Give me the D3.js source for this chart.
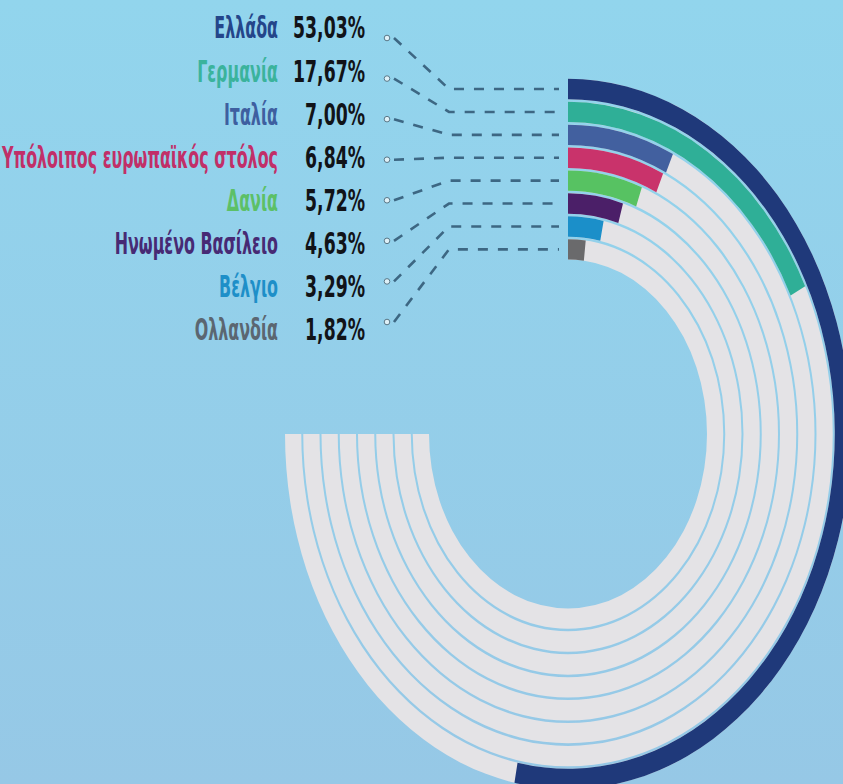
<!DOCTYPE html>
<html><head><meta charset="utf-8">
<script src="https://cdn.jsdelivr.net/npm/d3@7"></script>
<style>html,body{margin:0;padding:0;overflow:hidden;background:#93d0eb}</style>
</head><body>
<svg id="chart" width="843" height="784"></svg>
<script>
// ---- data ----
const countries = ["Ελλάδα","Γερμανία","Ιταλία","Υπόλοιπος ευρωπαϊκός στόλος","Δανία","Ηνωμένο Βασίλειο","Βέλγιο","Ολλανδία"];
const shares = [53.03, 17.67, 7.00, 6.84, 5.72, 4.63, 3.29, 1.82];
const arcColors = ["#1f397a","#2faf97","#42609f","#c9336b","#57c262","#4b1f68","#1b8fc9","#6a6a6c"];
const labelColors = ["#24468a","#3bb39c","#3e5fa0","#c12f68","#5cc067","#472a74","#1e8fc8","#5b6671"];

// ---- layout ----
const W = 843, H = 784;
const cx = 568, cy = 434, ky = 1.255;
const rOuter = 283, rInner = 139;
const trackEnd = Math.PI * 1.5;
const fmt = d3.formatLocale({decimal: ",", thousands: ".", grouping: [3], currency: ["", "€"]}).format(".2f");

const svg = d3.select("#chart");
const defs = svg.append("defs");
const grad = defs.append("linearGradient").attr("id","bg").attr("x1",0).attr("y1",0).attr("x2",0).attr("y2",1);
grad.append("stop").attr("offset","0%").attr("stop-color","#92d5ed");
grad.append("stop").attr("offset","100%").attr("stop-color","#96c8e6");
svg.append("rect").attr("width",W).attr("height",H).attr("fill","url(#bg)");

const ring = d3.scaleBand().domain(countries).range([rInner, rOuter]).paddingInner(0.11);
// outermost ring = first country
const ringInner = d => rOuter - (ring(d) - rInner) - ring.bandwidth();
const angle = d3.scaleLinear().domain([0, 100]).range([0, 2 * Math.PI]);
const arc = d3.arc();

const g = svg.append("g").attr("transform", `translate(${cx},${cy}) scale(1,${ky})`);

g.selectAll("path.track").data(countries).join("path")
  .attr("class","track")
  .attr("fill","#e4e3e6")
  .attr("d", d => arc({innerRadius: ringInner(d), outerRadius: ringInner(d) + ring.bandwidth(), startAngle: 0, endAngle: trackEnd}));

g.selectAll("path.bar").data(countries).join("path")
  .attr("class","bar")
  .attr("fill", (d,i) => arcColors[i])
  .attr("d", (d,i) => arc({innerRadius: ringInner(d), outerRadius: ringInner(d) + ring.bandwidth(), startAngle: 0, endAngle: angle(shares[i])}));

// ---- leaders ----
const circleY = d3.scalePoint().domain(countries).range([38, 322]);
const labelY = d3.scalePoint().domain(countries).range([38.5, 340]);
const circleX = 387, bendX = 449, leadEnd = 559;
const ringMidY = d => cy - ky * (ringInner(d) + ring.bandwidth() / 2);

svg.selectAll("path.lead").data(countries).join("path")
  .attr("class","lead")
  .attr("fill","none")
  .attr("stroke","#3d6783")
  .attr("stroke-width",2.6)
  .attr("stroke-dasharray","10,10")
  .attr("d", d => d3.line()([[circleX + 7, circleY(d)], [bendX, ringMidY(d)], [leadEnd, ringMidY(d)]]));

svg.selectAll("circle.dot").data(countries).join("circle")
  .attr("class","dot")
  .attr("cx", circleX).attr("cy", d => circleY(d)).attr("r", 2.8)
  .attr("fill","#dff1f8").attr("stroke","#5a7888").attr("stroke-width",1);

// ---- labels ----
const fontFam = "'Liberation Sans Narrow','DejaVu Sans Condensed','Liberation Sans',sans-serif";
const nameG = svg.append("g");
const names = nameG.selectAll("text").data(countries).join("text")
  .attr("x", 0).attr("y", d => labelY(d))
  .attr("text-anchor","end")
  .attr("font-family", fontFam).attr("font-size", 31).attr("font-weight", 700)
  .attr("fill", (d,i) => labelColors[i])
  .text(d => d);
const pctG = svg.append("g");
const pcts = pctG.selectAll("text").data(countries).join("text")
  .attr("x", 0).attr("y", d => labelY(d))
  .attr("text-anchor","end")
  .attr("font-family", fontFam).attr("font-size", 31).attr("font-weight", 700)
  .attr("fill", "#111318")
  .text((d,i) => fmt(shares[i]) + "%");

const maxName = d3.max(names.nodes(), n => n.getComputedTextLength());
const firstPct = pcts.node().getComputedTextLength();
nameG.attr("transform", `translate(278,0) scale(${276 / maxName},1)`);
pctG.attr("transform", `translate(365,0) scale(${72 / firstPct},1)`);
</script>
</body></html>
